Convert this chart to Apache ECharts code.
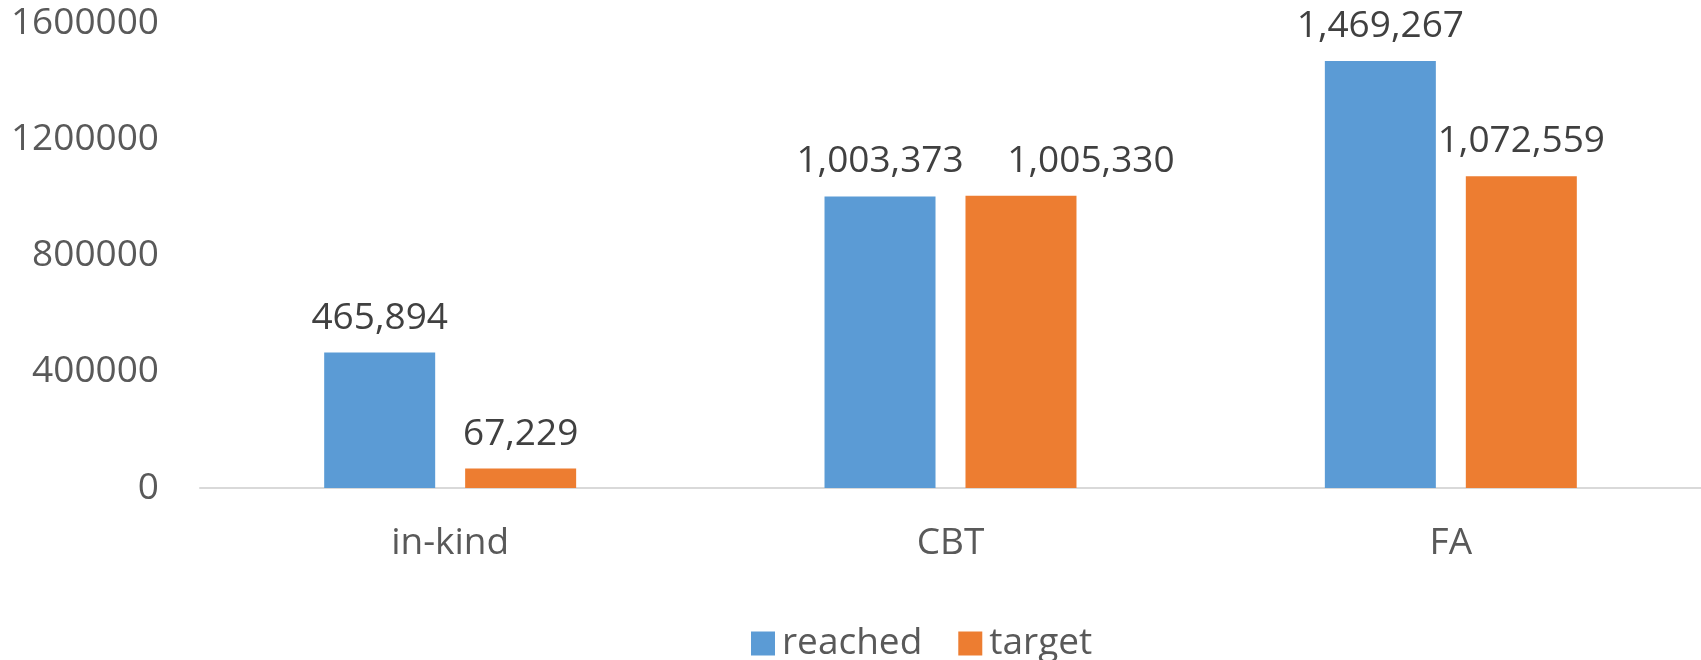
<!DOCTYPE html>
<html>
<head>
<meta charset="utf-8">
<script src="https://cdn.jsdelivr.net/npm/echarts@6/dist/echarts.min.js"></script>
<style>
  html, body { margin: 0; padding: 0; background: #fff; }
  #chart { width: 1701px; height: 660px; }
</style>
</head>
<body>
<div id="chart"></div>
<script>
var categories = ['in-kind', 'CBT', 'FA'];
var reached = [465894, 1003373, 1469267];
var target = [67229, 1005330, 1072559];
var yTicks = [0, 400000, 800000, 1200000, 1600000];

var font = '"Open Sans", "Noto Sans", sans-serif';

function labelFmt(p) {
    return Number(p.value).toLocaleString('en-US');
}

// CBT target label sits a bit to the right in the original so it doesn't touch its neighbour
var targetData = target.map(function (v, i) {
    if (i === 1) {
        return { value: v, label: { offset: [70, 0] } };
    }
    return v;
});

var myChart = echarts.init(document.getElementById('chart'));
var option = {
    animation: false,
    color: ['#5B9BD5', '#ED7D31'],
    grid: {
        left: 200,
        right: 0,
        top: 23,
        bottom: 172,
        containLabel: false,
        outerBoundsMode: 'none'
    },
    legend: {
        data: ['reached', 'target'],
        left: 746,
        top: 620,
        itemWidth: 24,
        itemHeight: 24,
        itemGap: 36,
        icon: 'rect',
        textStyle: { fontFamily: font, fontSize: 37, color: '#595959', padding: [0, 0, 0, 2] }
    },
    xAxis: {
        type: 'category',
        data: categories,
        axisLine: { lineStyle: { color: '#d9d9d9', width: 2 } },
        axisTick: { show: false },
        axisLabel: { fontFamily: font, fontSize: 37, color: '#595959', margin: 37 }
    },
    yAxis: {
        type: 'value',
        min: yTicks[0],
        max: yTicks[yTicks.length - 1],
        interval: yTicks[1] - yTicks[0],
        splitLine: { show: false },
        axisLine: { show: false },
        axisTick: { show: false },
        axisLabel: {
            fontFamily: font, fontSize: 37, color: '#595959', margin: 41,
            formatter: function (v) { return String(v); }
        }
    },
    series: [
        {
            name: 'reached',
            type: 'bar',
            data: reached,
            barWidth: 111,
            barGap: '27%',
            label: {
                show: true, position: 'top', distance: 16,
                fontFamily: font, fontSize: 37, color: '#404040',
                formatter: labelFmt
            }
        },
        {
            name: 'target',
            type: 'bar',
            data: targetData,
            barWidth: 111,
            label: {
                show: true, position: 'top', distance: 16,
                fontFamily: font, fontSize: 37, color: '#404040',
                formatter: labelFmt
            }
        }
    ]
};
myChart.setOption(option);
</script>
</body>
</html>
